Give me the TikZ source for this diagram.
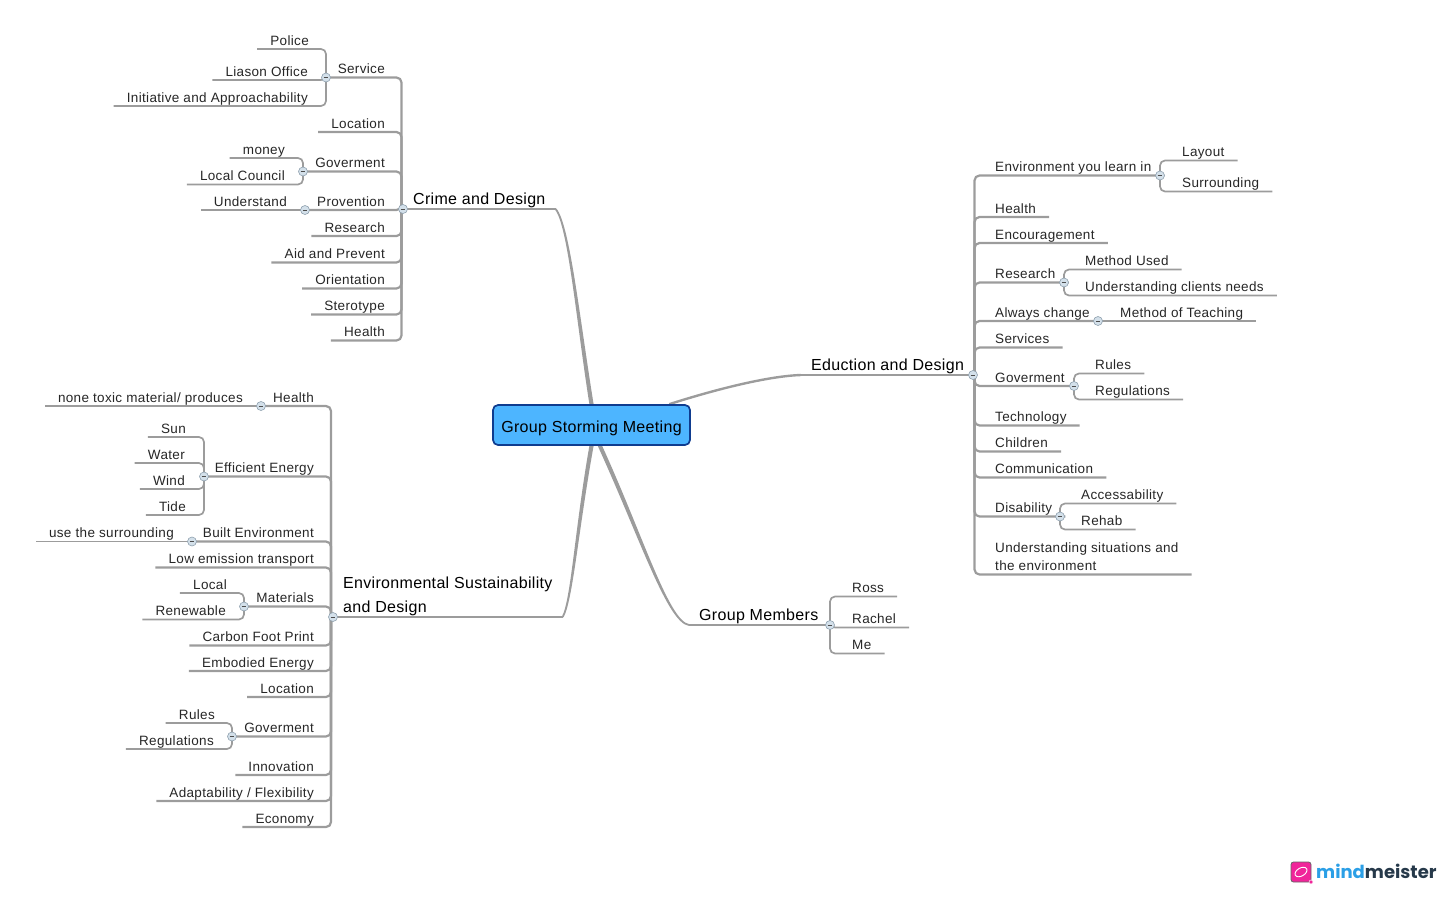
\documentclass[tikz,border=0pt]{standalone}
\usepackage{fontspec}
\setmainfont{Liberation Sans}
\newfontfamily\leaffont[LetterSpace=2.5]{Liberation Sans}
\newfontfamily\topicfont[LetterSpace=2]{Liberation Sans}
\newfontfamily\logofont{Poppins}
\usetikzlibrary{backgrounds}
\definecolor{linegray}{HTML}{9C9C9C}
\definecolor{knobblue}{HTML}{D3E0EA}
\definecolor{knobline}{HTML}{8FA0AE}
\definecolor{corefill}{HTML}{4DB5FF}
\definecolor{coreline}{HTML}{0F3C8F}
\definecolor{logoblue}{HTML}{2B9FE6}
\definecolor{logodark}{HTML}{26394A}
\definecolor{logopink}{HTML}{F0259A}
\tikzset{
  leafL/.style={anchor=south east,font=\leaffont\fontsize{13.5}{18}\selectfont,inner xsep=13pt,inner ysep=0.7pt,text depth=3pt,text=black!85},
  leafR/.style={leafL,anchor=south west,align=left},
  topicL/.style={anchor=south west,font=\topicfont\fontsize{16}{24}\selectfont,inner xsep=10pt,inner ysep=1pt,text depth=3.5pt,align=left},
  knob/.style={circle,draw=knobline,fill=knobblue,line width=0.6pt,minimum size=9pt,inner sep=0pt,
    path picture={\draw[line width=0.8pt,black!70] ([xshift=-2.4pt]path picture bounding box.center)--([xshift=2.4pt]path picture bounding box.center);}},
  branch/.style={draw=linegray,line width=1.7pt,rounded corners=5pt},
  trunk/.style={draw=linegray,line width=2.2pt,rounded corners=5pt},
  spoke/.style={draw=linegray,fill=linegray,line width=1.8pt,line join=round}
}
\begin{document}
\begin{tikzpicture}[x=1pt,y=-1pt]
\useasboundingbox (0,0) rectangle (1448,897);

\node[fill=corefill,draw=coreline,line width=1.7pt,rounded corners=5pt,minimum width=197pt,minimum height=40pt,inner sep=0pt,text height=14pt,text depth=0pt,font=\topicfont\fontsize{16}{18}\selectfont] (center) at (591.5,425) {Group Storming Meeting};

% crime
\node[topicL] (crime) at (403,209) {Crime and Design};
\node[knob] (crimeKnob) at (403,209) {};
\node[leafL] (service) at (398,77.5) {Service};
\node[leafL] (locationA) at (398,132) {Location};
\node[leafL] (govermentA) at (398,171.5) {Goverment};
\node[leafL] (provention) at (398,210) {Provention};
\node[leafL] (researchA) at (398,236) {Research};
\node[leafL] (aidPrevent) at (398,262.5) {Aid and Prevent};
\node[leafL] (orientation) at (398,288.5) {Orientation};
\node[leafL] (sterotype) at (398,314.5) {Sterotype};
\node[leafL] (healthA) at (398,340.5) {Health};
\node[leafL] (police) at (322,49) {Police};
\node[leafL] (liason) at (321,80) {Liason Office};
\node[leafL] (initiative) at (321,106) {Initiative and Approachability};
\node[knob] (serviceKnob) at (326,77.5) {};
\node[leafL] (money) at (298,158) {money};
\node[leafL] (council) at (298,184.5) {Local Council};
\node[knob] (govermentAKnob) at (303,171.5) {};
\node[leafL] (understand) at (300,210) {Understand};
\node[knob] (proventionKnob) at (305,210) {};

% environment
\node[topicL] (environ) at (333,617) {Environmental Sustainability\\and Design};
\node[knob] (environKnob) at (333,617) {};
\node[leafL] (healthB) at (327,406) {Health};
\node[leafL] (efficient) at (327,476.5) {Efficient Energy};
\node[leafL] (built) at (327,541.5) {Built Environment};
\node[leafL] (emission) at (327,567.5) {Low emission transport};
\node[leafL] (materials) at (327,606.5) {Materials};
\node[leafL] (carbon) at (327,645.5) {Carbon Foot Print};
\node[leafL] (embodied) at (327,671) {Embodied Energy};
\node[leafL] (locationB) at (327,697) {Location};
\node[leafL] (govermentB) at (327,736.5) {Goverment};
\node[leafL] (innovation) at (327,775) {Innovation};
\node[leafL] (adapt) at (327,801) {Adaptability / Flexibility};
\node[leafL] (economy) at (327,827) {Economy};
\node[leafL] (toxic) at (256,406) {none toxic material/ produces};
\node[knob] (healthBKnob) at (261,406) {};
\node[leafL] (sun) at (199,437) {Sun};
\node[leafL] (water) at (198,463) {Water};
\node[leafL] (wind) at (198,489) {Wind};
\node[leafL] (tide) at (199,515) {Tide};
\node[knob] (efficientKnob) at (204,476.5) {};
\node[leafL] (surrounding) at (187,541.5) {use the surrounding};
\node[knob] (builtKnob) at (192,541.5) {};
\node[leafL] (local) at (240,593) {Local};
\node[leafL] (renewable) at (239,619.5) {Renewable};
\node[knob] (materialsKnob) at (244,606.5) {};
\node[leafL] (rulesB) at (228,723) {Rules};
\node[leafL] (regulationsB) at (227,749) {Regulations};
\node[knob] (govermentBKnob) at (232,736.5) {};

% education
\node[topicL] (eduction) at (801,375) {Eduction and Design};
\node[knob] (eductionKnob) at (973,375) {};
\node[leafR] (learn) at (982,175.5) {Environment you learn in};
\node[leafR] (healthC) at (982,217) {Health};
\node[leafR] (encourage) at (982,243) {Encouragement};
\node[leafR] (researchC) at (982,282.5) {Research};
\node[leafR] (always) at (982,321) {Always change};
\node[leafR] (services) at (982,347.5) {Services};
\node[leafR] (govermentC) at (982,386) {Goverment};
\node[leafR] (technology) at (982,425.5) {Technology};
\node[leafR] (children) at (982,451.5) {Children};
\node[leafR] (communication) at (982,477.5) {Communication};
\node[leafR] (disability) at (982,516.5) {Disability};
\node[leafR] (situations) at (982,574.5) {Understanding situations and\\the environment};
\node[leafR] (layout) at (1169,160.5) {Layout};
\node[leafR] (surround) at (1169,191.5) {Surrounding};
\node[knob] (learnKnob) at (1160,175.5) {};
\node[leafR] (method) at (1072,269.5) {Method Used};
\node[leafR] (clients) at (1072,295.5) {Understanding clients needs};
\node[knob] (researchCKnob) at (1064,282.5) {};
\node[leafR] (teaching) at (1107,321) {Method of Teaching};
\node[knob] (alwaysKnob) at (1098,321) {};
\node[leafR] (rulesC) at (1082,373.5) {Rules};
\node[leafR] (regulationsC) at (1082,399.5) {Regulations};
\node[knob] (govermentCKnob) at (1074,386) {};
\node[leafR] (access) at (1068,503.5) {Accessability};
\node[leafR] (rehab) at (1068,529.5) {Rehab};
\node[knob] (disabilityKnob) at (1060,516.5) {};

% members
\node[topicL] (members) at (689,625) {Group Members};
\node[knob] (membersKnob) at (830,625) {};
\node[leafR] (ross) at (839,596.5) {Ross};
\node[leafR] (rachel) at (839,627.5) {Rachel};
\node[leafR] (me) at (839,653.5) {Me};

\begin{scope}[on background layer]
\draw[linegray,line width=1.9pt] (crimeKnob.center) -- (crime.south east);
\draw[spoke] (crime.south east) .. controls (569,225) and (577,320) .. ([xshift=-1.2pt]center.north) -- ([xshift=1.2pt]center.north) .. controls (579,320) and (569,225) .. (crime.south east);
\draw[linegray,line width=1.9pt] (environKnob.center) -- (environ.south east);
\draw[spoke] (environ.south east) .. controls (572,600) and (575.5,530) .. ([xshift=-1.2pt]center.south) -- ([xshift=1.2pt]center.south) .. controls (577.5,530) and (572,600) .. (environ.south east);
\draw[linegray,line width=1.9pt] (membersKnob.center) -- (members.south west);
\draw[spoke] (members.south west) .. controls (668,622) and (639.5,535) .. ([xshift=-1.2pt]center.-68) -- ([xshift=1.2pt]center.-68) .. controls (642,535) and (668,622) .. (members.south west);
\draw[linegray,line width=1.9pt] (eductionKnob.center) -- (eduction.south west);
\draw[linegray,line width=2.4pt] (eduction.south west) .. controls (770,376) and (720,388) .. (center.15.6);

\foreach \leaf in {service,locationA,govermentA,provention,researchA,aidPrevent,orientation,sterotype,healthA}
  \draw[trunk] ([xshift=-1.5pt]crimeKnob.center) |- (\leaf.south west);
\foreach \leaf in {healthB,efficient,built,emission,materials,carbon,embodied,locationB,govermentB,innovation,adapt,economy}
  \draw[trunk] ([xshift=-2pt]environKnob.center) |- (\leaf.south west);
\foreach \leaf in {learn,healthC,encourage,researchC,always,services,govermentC,technology,children,communication,disability,situations}
  \draw[trunk] ([xshift=1.5pt]eductionKnob.center) |- (\leaf.south east);

\foreach \leaf in {police,liason,initiative}
  \draw[branch] (serviceKnob.center) |- (\leaf.south west);
\foreach \leaf in {money,council}
  \draw[branch] (govermentAKnob.center) |- (\leaf.south west);
\draw[branch] (proventionKnob.center) -- (understand.south west);
\draw[branch] (healthBKnob.center) -- (toxic.south west);
\foreach \leaf in {sun,water,wind,tide}
  \draw[branch] (efficientKnob.center) |- (\leaf.south west);
\draw[branch] (builtKnob.center) -- (surrounding.south west);
\foreach \leaf in {local,renewable}
  \draw[branch] (materialsKnob.center) |- (\leaf.south west);
\foreach \leaf in {rulesB,regulationsB}
  \draw[branch] (govermentBKnob.center) |- (\leaf.south west);

\foreach \leaf in {layout,surround}
  \draw[branch] (learnKnob.center) |- (\leaf.south east);
\foreach \leaf in {method,clients}
  \draw[branch] (researchCKnob.center) |- (\leaf.south east);
\draw[branch] (alwaysKnob.center) -- (teaching.south east);
\foreach \leaf in {rulesC,regulationsC}
  \draw[branch] (govermentCKnob.center) |- (\leaf.south east);
\foreach \leaf in {access,rehab}
  \draw[branch] (disabilityKnob.center) |- (\leaf.south east);
\foreach \leaf in {ross,rachel,me}
  \draw[branch] (membersKnob.center) |- (\leaf.south east);
\end{scope}

% logo
\draw[draw=black!60,fill=logopink,line width=0.8pt,rounded corners=2.5pt] (1291,862) rectangle (1311,882);
\draw[white,line width=0.9pt,rotate around={30:(1301,872)}] (1301,872) ellipse (6.5pt and 4pt);
\fill[logopink,draw=white,line width=0.5pt] (1311,882) circle (2pt);
\node[anchor=west,inner sep=0pt,font=\logofont\fontsize{18}{20}\bfseries\selectfont] (logo) at (1316,871) {\textcolor{logoblue}{mind}\textcolor{logodark}{meister}};
\end{tikzpicture}
\end{document}
